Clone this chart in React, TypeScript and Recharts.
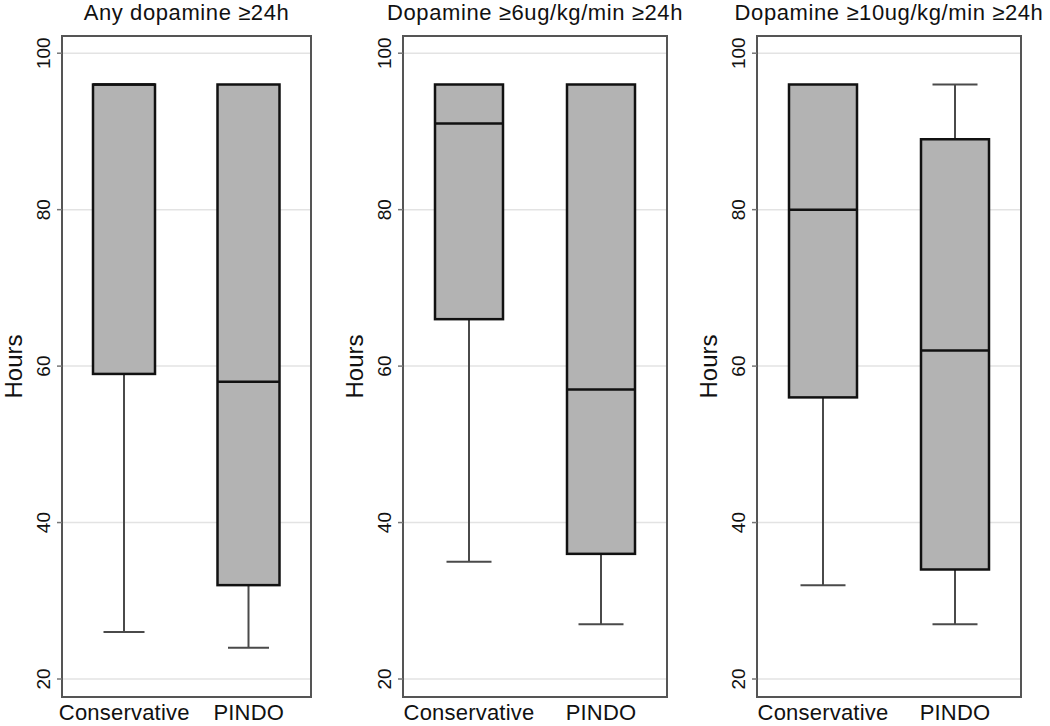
import { Bar, BarChart, CartesianGrid, ReferenceArea, XAxis, YAxis } from 'recharts'

const categories = ['Conservative', 'PINDO']
const yTicks = [20, 40, 60, 80, 100]
const yDomain: [number, number] = [17.7, 102.2]

const titles = ['Any dopamine ≥24h', 'Dopamine ≥6ug/kg/min ≥24h', 'Dopamine ≥10ug/kg/min ≥24h']

// box stats per group: [Conservative, PINDO]
const anyMin = [26, 24]
const anyQ1 = [59, 32]
const anyMed = [96, 58]
const anyQ3 = [96, 96]
const anyMax = [96, 96]

const sixMin = [35, 27]
const sixQ1 = [66, 36]
const sixMed = [91, 57]
const sixQ3 = [96, 96]
const sixMax = [96, 96]

const tenMin = [32, 27]
const tenQ1 = [56, 34]
const tenMed = [80, 62]
const tenQ3 = [96, 89]
const tenMax = [96, 96]

const FONT = '"Liberation Sans", Arial, Helvetica, sans-serif'
const CHART_H = 726
const AXIS_W = 62

function rows(min: number[], q1: number[], med: number[], q3: number[], max: number[]) {
  return categories.map((name, i) => ({ name, min: min[i], q1: q1[i], med: med[i], q3: q3[i], max: max[i] }))
}

const panels = [
  { title: titles[0], data: rows(anyMin, anyQ1, anyMed, anyQ3, anyMax), left: 0, plotW: 249, barSize: 62, cap: 41 },
  { title: titles[1], data: rows(sixMin, sixQ1, sixMed, sixQ3, sixMax), left: 341, plotW: 264, barSize: 68, cap: 45 },
  { title: titles[2], data: rows(tenMin, tenQ1, tenMed, tenQ3, tenMax), left: 695, plotW: 264, barSize: 68, cap: 45 },
]

function BoxShape(props: any) {
  const { x, y, width, height, payload, cap } = props
  const top = Math.min(y, y + height)
  const bottom = Math.max(y, y + height)
  const span = payload.max - payload.min
  const k = span > 0 ? (bottom - top) / span : 0
  const py = (v: number) => top + (payload.max - v) * k
  const cx = x + width / 2
  const whisker = '#4a4a4a'
  return (
    <g>
      {payload.min < payload.q1 && (
        <g>
          <line x1={cx} x2={cx} y1={py(payload.q1)} y2={py(payload.min)} stroke={whisker} strokeWidth={2} />
          <line x1={cx - cap / 2} x2={cx + cap / 2} y1={py(payload.min)} y2={py(payload.min)} stroke={whisker} strokeWidth={2} />
        </g>
      )}
      {payload.max > payload.q3 && (
        <g>
          <line x1={cx} x2={cx} y1={py(payload.max)} y2={py(payload.q3)} stroke={whisker} strokeWidth={2} />
          <line x1={cx - cap / 2} x2={cx + cap / 2} y1={py(payload.max)} y2={py(payload.max)} stroke={whisker} strokeWidth={2} />
        </g>
      )}
      <rect x={x} y={py(payload.q3)} width={width} height={py(payload.q1) - py(payload.q3)} fill="#b3b3b3" stroke="#111" strokeWidth={2.5} />
      <line x1={x} x2={x + width} y1={py(payload.med)} y2={py(payload.med)} stroke="#111" strokeWidth={2.5} />
    </g>
  )
}

function YTick(props: any) {
  const { x, y, payload } = props
  return (
    <text x={x} y={y} transform={`rotate(-90, ${x}, ${y})`} textAnchor="middle" fontSize={19} fontFamily={FONT} fill="#111">
      {payload.value}
    </text>
  )
}

function XTick(props: any) {
  const { x, y, payload } = props
  return (
    <text x={x} y={y} dy={23} textAnchor="middle" fontSize={22} letterSpacing={0.2} fontFamily={FONT} fill="#111">
      {payload.value}
    </text>
  )
}

function HoursLabel(props: any) {
  const vb = props.viewBox || { x: 0, y: 36, width: AXIS_W, height: 661 }
  const lx = vb.x + vb.width - 40
  const cy = vb.y + vb.height / 2
  return (
    <text x={lx} y={cy} transform={`rotate(-90, ${lx}, ${cy})`} textAnchor="middle" fontSize={24} fontFamily={FONT} fill="#111">
      Hours
    </text>
  )
}

function Panel({ title, data, left, plotW, barSize, cap }: (typeof panels)[number]) {
  const width = AXIS_W + plotW + 2
  return (
    <div style={{ position: 'absolute', left, top: 0, width, height: CHART_H }}>
      <div
        style={{
          position: 'absolute',
          left: AXIS_W,
          width: plotW,
          top: 2,
          textAlign: 'center',
          whiteSpace: 'nowrap',
          fontFamily: FONT,
          fontSize: 22,
          lineHeight: '22px',
          letterSpacing: 0.6,
          color: '#111',
          display: 'flex',
          justifyContent: 'center',
        }}
      >
        {title}
      </div>
      <BarChart width={width} height={CHART_H} data={data} margin={{ top: 36, right: 2, bottom: 0, left: 0 }}>
        <CartesianGrid vertical={false} stroke="#e3e3e3" strokeWidth={1.5} />
        <XAxis dataKey="name" height={29} tickLine={false} axisLine={false} tickSize={0} tickMargin={0} tick={<XTick />} interval={0} />
        <YAxis
          type="number"
          domain={yDomain}
          ticks={yTicks}
          width={AXIS_W}
          axisLine={false}
          tickSize={5}
          tickMargin={7}
          tickLine={{ stroke: '#777', strokeWidth: 1.5 }}
          tick={<YTick />}
          label={{ content: <HoursLabel /> }}
        />
        <Bar
          dataKey={(d: any) => [d.min, d.max]}
          barSize={barSize}
          isAnimationActive={false}
          shape={(p: any) => <BoxShape {...p} cap={cap} />}
        />
        <ReferenceArea y1={yDomain[0]} y2={yDomain[1]} fill="none" stroke="#555" strokeWidth={2} ifOverflow="visible" />
      </BarChart>
    </div>
  )
}

export default function App() {
  return (
    <div style={{ position: 'absolute', left: 0, top: 0, width: 1050, height: 726, background: '#fff' }}>
      {panels.map((p) => (
        <Panel key={p.title} {...p} />
      ))}
    </div>
  )
}
